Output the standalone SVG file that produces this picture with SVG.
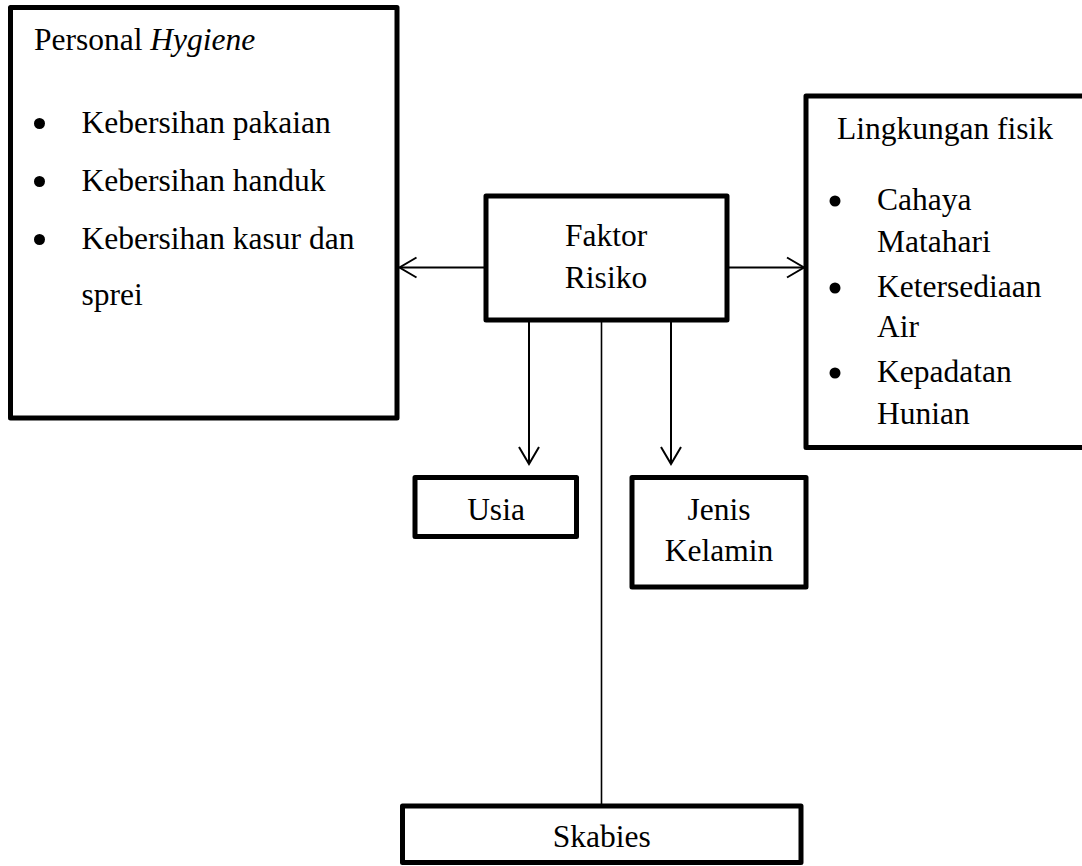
<svg xmlns="http://www.w3.org/2000/svg" width="1082" height="866" viewBox="0 0 1082 866">
<style>
.box{fill:#fff;stroke:#000;stroke-width:5;stroke-linejoin:round}
.t{font-size:31.5px;fill:#000}
.c{text-anchor:middle}
.ln{stroke:#000;stroke-width:2;fill:none}
.bul{fill:#000}
</style>
<defs>
<marker id="arr" viewBox="-20 -12 22 24" refX="0" refY="0" markerWidth="22" markerHeight="24" markerUnits="userSpaceOnUse" orient="auto">
<path d="M-17,-10 L0,0 L-17,10" fill="none" stroke="#000" stroke-width="2"/>
</marker>
</defs>
<rect width="1082" height="866" fill="#fff"/>
<g id="connectors">
<line class="ln" x1="486" y1="267.5" x2="399.5" y2="267.5" marker-end="url(#arr)"/>
<line class="ln" x1="727" y1="267.5" x2="804" y2="267.5" marker-end="url(#arr)"/>
<line class="ln" x1="529" y1="320" x2="529" y2="464" marker-end="url(#arr)"/>
<line class="ln" x1="671" y1="320" x2="671" y2="464" marker-end="url(#arr)"/>
<line x1="601.5" y1="320" x2="601.5" y2="806" stroke="#000" stroke-width="1.6"/>
</g>
<g font-family="'Liberation Serif', 'Times New Roman', serif">
<g id="personal-hygiene">
<rect class="box" x="10.5" y="7.5" width="386.5" height="410.5"/>
<text class="t" x="34" y="49.5">Personal <tspan font-style="italic">Hygiene</tspan></text>
<circle class="bul" cx="39.5" cy="123.5" r="5.5"/>
<text class="t" x="81.5" y="132.5">Kebersihan pakaian</text>
<circle class="bul" cx="39.5" cy="181.5" r="5.5"/>
<text class="t" x="81.5" y="190.5">Kebersihan handuk</text>
<circle class="bul" cx="39.5" cy="239.5" r="5.5"/>
<text class="t" x="81.5" y="248.5">Kebersihan kasur dan</text>
<text class="t" x="81.5" y="304.5">sprei</text>
</g>
<g id="lingkungan-fisik">
<rect class="box" x="806" y="96" width="290" height="351.5"/>
<text class="t" x="837" y="138.5">Lingkungan fisik</text>
<circle class="bul" cx="835" cy="201" r="5.5"/>
<text class="t" x="877" y="210">Cahaya</text>
<text class="t" x="877" y="252">Matahari</text>
<circle class="bul" cx="835" cy="288" r="5.5"/>
<text class="t" x="877" y="297">Ketersediaan</text>
<text class="t" x="877" y="337">Air</text>
<circle class="bul" cx="835" cy="373" r="5.5"/>
<text class="t" x="877" y="382">Kepadatan</text>
<text class="t" x="877" y="424">Hunian</text>
</g>
<g id="faktor-risiko">
<rect class="box" x="486" y="196" width="241" height="124"/>
<text class="t c" x="606" y="245.5">Faktor</text>
<text class="t c" x="606" y="288">Risiko</text>
</g>
<g id="usia">
<rect class="box" x="415" y="477.5" width="161.5" height="59"/>
<text class="t c" x="496" y="519.5">Usia</text>
</g>
<g id="jenis-kelamin">
<rect class="box" x="632" y="477.5" width="174" height="109.5"/>
<text class="t c" x="719" y="519.5">Jenis</text>
<text class="t c" x="719" y="561">Kelamin</text>
</g>
<g id="skabies">
<rect class="box" x="402.5" y="806" width="398.5" height="56.5"/>
<text class="t c" x="601.7" y="847">Skabies</text>
</g>
</g>
</svg>
